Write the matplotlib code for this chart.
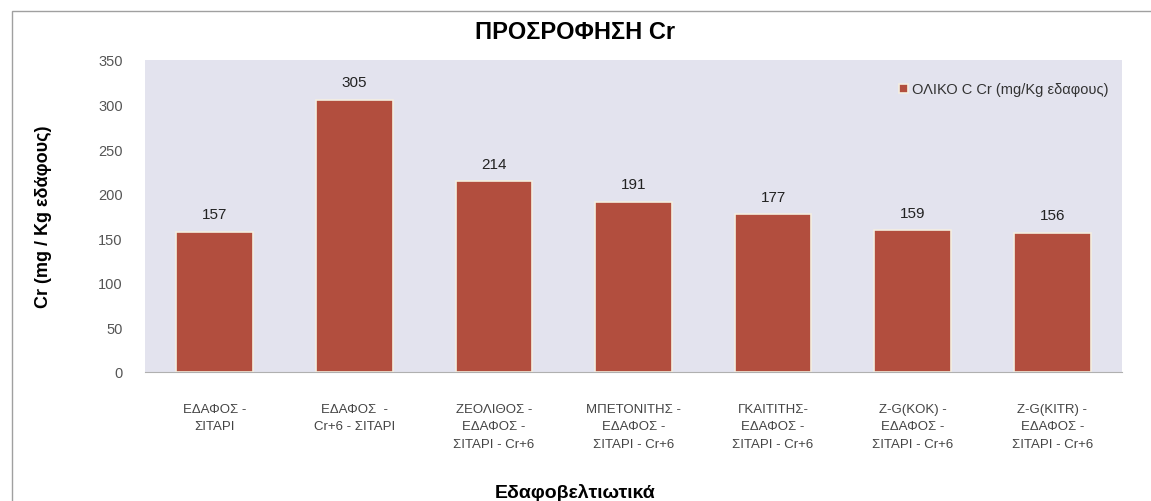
import matplotlib.pyplot as plt
import matplotlib.patches as mpatches
import numpy as np

categories = ['ΕΔΑΦΟΣ -\nΣΙΤΑΡΙ', 'ΕΔΑΦΟΣ  -\nCr+6 - ΣΙΤΑΡΙ', 'ΖΕΟΛΙΘΟΣ -\nΕΔΑΦΟΣ -\nΣΙΤΑΡΙ - Cr+6',
              'ΜΠΕΤΟΝΙΤΗΣ -\nΕΔΑΦΟΣ -\nΣΙΤΑΡΙ - Cr+6', 'ΓΚΑΙΤΙΤΗΣ-\nΕΔΑΦΟΣ -\nΣΙΤΑΡΙ - Cr+6',
              'Z-G(KOK) -\nΕΔΑΦΟΣ -\nΣΙΤΑΡΙ - Cr+6', 'Z-G(KITR) -\nΕΔΑΦΟΣ -\nΣΙΤΑΡΙ - Cr+6']
values = [157, 305, 214, 191, 177, 159, 156]
series_name = 'ΟΛΙΚΟ C Cr (mg/Kg εδαφους)'
yticks = [0, 50, 100, 150, 200, 250, 300, 350]

plt.rcParams['font.family'] = ['Liberation Sans', 'DejaVu Sans']

fig = plt.figure(figsize=(11.51, 5.02), dpi=100)
# outer chart frame
fig.patches.append(mpatches.Rectangle((12/1151, -0.01), 1.0, 1 - 12/502 + 0.01, transform=fig.transFigure,
                                      fill=False, edgecolor='#a0a0a0', linewidth=1.0))
ax = fig.add_axes([145/1151, 1 - 373/502, (1122 - 145)/1151, (373 - 61)/502])
ax.set_facecolor('#e3e3ee')

x = np.arange(len(values))
ax.bar(x, values, width=0.55, color='#b24e3e', edgecolor='#f4eee0', linewidth=1.2,
       label=series_name, zorder=2)
for xi, v in zip(x, values):
    ax.text(xi, v + 12, str(v), ha='center', va='bottom', fontsize=11, color='#222222')

ax.set_xlim(-0.5, len(values) - 0.5)
ax.set_ylim(0, 350)
ax.set_yticks(yticks)
ax.tick_params(axis='y', length=0, pad=16, labelsize=10.5, labelcolor='#555555')
ax.tick_params(axis='x', length=0, pad=22)
ax.set_xticks(x)
ax.set_xticklabels(categories, fontsize=9.5, color='#444444', linespacing=1.65)
for s in ax.spines.values():
    s.set_visible(False)
ax.spines['bottom'].set_visible(True)
ax.spines['bottom'].set_color('#b0b0b0')

ax.set_ylabel('Cr (mg / Kg εδάφους)', fontsize=13, fontweight='bold')
ax.yaxis.set_label_coords(-0.095, 0.5)
fig.text(0.5, 1 - 493/502, 'Εδαφοβελτιωτικά', ha='center', va='center', fontsize=14,
         fontweight='bold')
fig.text(0.5, 1 - 33/502, 'ΠΡΟΣΡΟΦΗΣΗ Cr', ha='center', va='center', fontsize=17, fontweight='bold')

ax.legend(loc='upper right', bbox_to_anchor=(1.0, 0.97), frameon=False, fontsize=10.5,
          handlelength=0.6, handleheight=0.6, handletextpad=0.3, labelcolor='#333333')

fig.savefig('out.png', dpi=100)
